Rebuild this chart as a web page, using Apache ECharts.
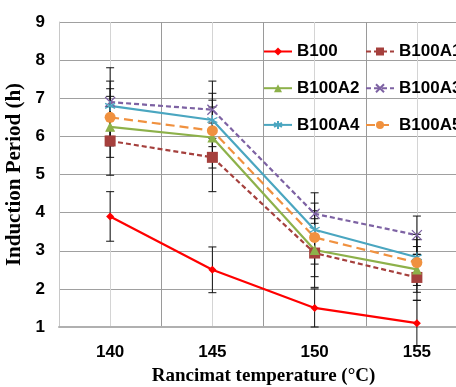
<!DOCTYPE html>
<html>
<head>
<meta charset="utf-8">
<script src="https://cdn.jsdelivr.net/npm/echarts@6/dist/echarts.min.js"></script>
<style>
  html, body { margin: 0; padding: 0; background: #fff; }
  #chart { width: 456px; height: 387px; }
</style>
</head>
<body>
<div id="chart"></div>
<script>
// 温度 (x)
const temps = [140, 145, 150, 155];
const xTicks = [140, 145, 150, 155];
const yTicks = [1, 2, 3, 4, 5, 6, 7, 8, 9];

const names = ['B100', 'B100A1', 'B100A2', 'B100A3', 'B100A4', 'B100A5'];
const b100 = [3.9, 2.5, 1.5, 1.1];
const b100a1 = [5.88, 5.45, 2.94, 2.3];
const b100a2 = [6.25, 5.97, 3.02, 2.51];
const b100a3 = [6.9, 6.7, 3.97, 3.41];
const b100a4 = [6.8, 6.43, 3.55, 2.83];
const b100a5 = [6.5, 6.15, 3.35, 2.69];

// 误差 (±)
const errB100 = [0.65, 0.6, 0.5, 0.6];
const errA1 = [0.9, 0.9, 0.9, 0.6];
const errA2 = [0.8, 0.8, 0.7, 0.6];
const errA3 = [0.9, 0.75, 0.55, 0.5];
const errA4 = [0.65, 0.7, 0.7, 0.6];
const errA5 = [0.75, 0.8, 0.7, 0.6];

const values = [b100, b100a1, b100a2, b100a3, b100a4, b100a5];
const errors = [errB100, errA1, errA2, errA3, errA4, errA5];
const colors = ['#ff0000', '#a5403d', '#8db14a', '#7d62a3', '#4aa6c0', '#f0913f'];
const lineTypes = ['solid', [5, 3], 'solid', [5, 3], 'solid', [9, 5]];
const symbols = [
  'diamond',
  'rect',
  'triangle',
  'path://M0,0L10,10M10,0L0,10',
  'path://M5,0L5,10M0,2.5L10,7.5M0,7.5L10,2.5',
  'circle'
];
const symbolSizes = [8, 11, 10, 10, 10, 11];

const lineSeries = names.map((name, i) => ({
  name,
  type: 'line',
  z: 3,
  data: temps.map((t, j) => [t, values[i][j]]),
  symbol: symbols[i],
  symbolSize: symbolSizes[i],
  showAllSymbol: true,
  lineStyle: { color: colors[i], width: 2.2, type: lineTypes[i] },
  itemStyle: { color: colors[i], borderColor: colors[i], borderWidth: (i === 3 || i === 4) ? 1.3 : 0 },
}));

// 误差线
const errData = [];
names.forEach((n, i) => {
  temps.forEach((t, j) => {
    errData.push([t, values[i][j] - errors[i][j], values[i][j] + errors[i][j]]);
  });
});

const errSeries = {
  type: 'custom',
  z: 2,
  silent: true,
  data: errData,
  renderItem(params, api) {
    const x = api.value(0);
    const lo = api.coord([x, api.value(1)]);
    const hi = api.coord([x, api.value(2)]);
    const w = 4;
    const style = { stroke: '#111', lineWidth: 1 };
    return {
      type: 'group',
      children: [
        { type: 'line', shape: { x1: lo[0], y1: lo[1], x2: hi[0], y2: hi[1] }, style },
        { type: 'line', shape: { x1: lo[0] - w, y1: lo[1], x2: lo[0] + w, y2: lo[1] }, style },
        { type: 'line', shape: { x1: hi[0] - w, y1: hi[1], x2: hi[0] + w, y2: hi[1] }, style },
      ],
    };
  },
};

const legendText = { fontFamily: 'Liberation Sans', fontWeight: 'bold', fontSize: 17, lineHeight: 17, color: '#000' };

const options = {
  animation: false,
  backgroundColor: '#fff',
  grid: { left: 59, right: -12, top: 22, bottom: 60, outerBoundsMode: 'none' },
  legend: [
    {
      data: [names[0], names[2], names[4]],
      orient: 'vertical',
      left: 263, top: 43, padding: 0,
      itemWidth: 28, itemHeight: 10, itemGap: 19.7,
      textStyle: legendText,
    },
    {
      data: [names[1], names[3], names[5]],
      orient: 'vertical',
      left: 365, top: 43, padding: 0,
      itemWidth: 28, itemHeight: 10, itemGap: 19.7,
      textStyle: legendText,
    },
  ],
  xAxis: {
    type: 'value',
    min: 137.5,
    max: 157.5,
    interval: 2.5,
    name: 'Rancimat temperature (°C)',
    nameLocation: 'middle',
    nameGap: 40,
    nameTextStyle: { fontFamily: 'Liberation Serif', fontWeight: 'bold', fontSize: 19, color: '#000' },
    axisLine: { lineStyle: { color: '#b0b0b0', width: 2 } },
    axisTick: { show: false },
    axisLabel: {
      margin: 17,
      fontFamily: 'Liberation Sans', fontWeight: 'bold', fontSize: 17, color: '#000',
      formatter(v) { return xTicks.indexOf(v) >= 0 ? String(v) : ''; },
    },
    splitLine: { show: true, lineStyle: { color: ['#9a9a9a', '#d4d4d4'], width: 1 } },
  },
  yAxis: {
    type: 'value',
    min: yTicks[0],
    max: yTicks[yTicks.length - 1],
    interval: 1,
    name: 'Induction Period (h)',
    nameLocation: 'middle',
    nameGap: 28,
    nameTextStyle: { fontFamily: 'Liberation Serif', fontWeight: 'bold', fontSize: 21, color: '#000' },
    axisLine: { show: true, lineStyle: { color: '#c8c8c8', width: 1 } },
    axisTick: { show: false },
    axisLabel: { margin: 14, fontFamily: 'Liberation Sans', fontWeight: 'bold', fontSize: 17, color: '#000' },
    splitLine: { show: true, lineStyle: { color: '#a0a0a0', width: 1 } },
  },
  series: [errSeries, ...lineSeries],
};

const myChart = echarts.init(document.getElementById('chart'));
myChart.setOption(options);
</script>
</body>
</html>
